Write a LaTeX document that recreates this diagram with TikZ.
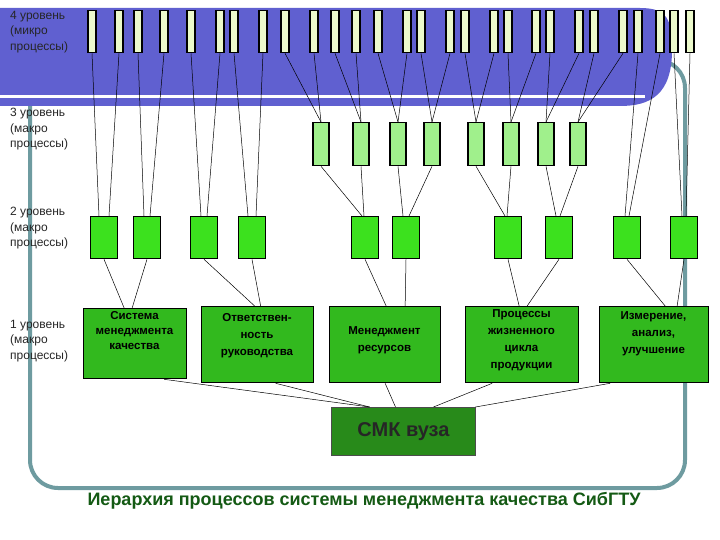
\documentclass[tikz,border=0pt]{standalone}
\usepackage{fontspec}
\setmainfont{Liberation Sans}
\begin{document}
\begin{tikzpicture}[x=1pt,y=-1pt,
  lvl/.style={anchor=north west,align=left,font=\fontsize{12}{15.5}\selectfont,text=black!85,inner sep=0pt},
  mic/.style={draw=black,line width=1.3pt,fill={rgb,255:red,236;green,250;blue,204},minimum width=8pt,minimum height=42pt,inner sep=0pt,anchor=north},
  mac3/.style={draw=black,line width=1.3pt,fill={rgb,255:red,160;green,240;blue,140},minimum width=16pt,minimum height=43pt,inner sep=0pt,anchor=north},
  mac2/.style={draw=black,line width=1.3pt,fill={rgb,255:red,60;green,225;blue,30},minimum width=27pt,minimum height=42pt,inner sep=0pt,anchor=north},
  mac1/.style={draw=black,line width=1.3pt,fill={rgb,255:red,50;green,185;blue,30},inner sep=0pt,anchor=north west},
  btxt/.style={font=\fontsize{11.5}{17}\selectfont\bfseries,align=center,anchor=north,inner sep=0pt},
  ln/.style={draw=black,line width=0.5pt}]
\useasboundingbox (0,0) rectangle (720,540);
\fill[white] (0,0) rectangle (720,540);
% frame
\draw[line width=4pt,color={rgb,255:red,110;green,155;blue,160},rounded corners=28pt] (30,60) rectangle (685,488);
% blue band
\fill[color={rgb,255:red,96;green,96;blue,208}] (0,8) -- (640,8) .. controls (668,8) and (672,20) .. (672,50) .. controls (672,95) and (650,106) .. (620,106) -- (0,106) -- cycle;
\fill[white] (0,95.5) rectangle (645,98.5);
% labels
\node[lvl] (l4) at (10,11) {4 уровень\\(микро\\процессы)};
\node[lvl] (l3) at (10,108) {3 уровень\\(макро\\процессы)};
\node[lvl] (l2) at (10,207) {2 уровень\\(макро\\процессы)};
\node[lvl] (l1) at (10,320) {1 уровень\\(макро\\процессы)};
% level 4
\foreach \x [count=\i] in {92,119,138,164,191,220,234,263,285,314,335,356,378,407,421,450,465,494,508,536,550,579,594,623,638,660,674,690}
  \node[mic] (a\i) at (\x,10) {};
% level 3
\foreach \x [count=\i] in {321,361,398,432,476,511,546,578}
  \node[mac3] (b\i) at (\x,122) {};
% level 2
\foreach \x [count=\i] in {104,147,204,252,365,406,508,559,627,684}
  \node[mac2] (c\i) at (\x,216) {};
% level 1
\node[mac1,minimum width=103pt,minimum height=70pt] (d1) at (83,308) {};
\node[btxt,font=\fontsize{11.5}{15}\selectfont\bfseries] (t1) at (134.5,311) {Система\\менеджмента\\качества};
\node[mac1,minimum width=112pt,minimum height=76pt] (d2) at (201,306) {};
\node[btxt] (t2) at (257,313) {Ответствен-\\ность\\руководства};
\node[mac1,minimum width=111pt,minimum height=76pt] (d3) at (329,306) {};
\node[btxt] (t3) at (384.5,326) {Менеджмент\\ресурсов};
\node[mac1,minimum width=113pt,minimum height=76pt] (d4) at (465,306) {};
\node[btxt] (t4) at (521.5,309) {Процессы\\жизненного\\цикла\\продукции};
\node[mac1,minimum width=109pt,minimum height=76pt] (d5) at (599,306) {};
\node[btxt] (t5) at (653.5,311) {Измерение,\\анализ,\\улучшение};
% SMK
\node[draw=black!70,line width=1pt,fill={rgb,255:red,40;green,138;blue,26},minimum width=144pt,minimum height=48pt,anchor=north west,font=\fontsize{20}{22}\selectfont\bfseries,text=black!85] (smk) at (331,407) {СМК вуза};
% title
\node[font=\fontsize{18}{20}\selectfont\bfseries,text={rgb,255:red,20;green,90;blue,20}] (title) at (364,501) {Иерархия процессов системы менеджмента качества СибГТУ};
% L4 -> L2
\foreach \u/\v/\s in {1/1/-5,2/1/5,3/2/-3,4/2/3,5/3/-3,6/3/3,7/4/-4,8/4/4,25/9/-2,26/9/2,27/10/-2,28/10/2}
  \draw[ln] (a\u.south) -- ([xshift=\s pt]c\v.north);
% L4 -> L3
\foreach \u/\v in {9/1,10/1,11/2,12/2,13/3,14/3,15/4,16/4,17/5,18/5,19/6,20/6,21/7,22/7,23/8,24/8}
  \draw[ln] (a\u.south) -- (b\v.north);
% L3 -> L2
\foreach \u/\v/\s in {1/5/-3,2/5/-1,3/6/-3,4/6/3,5/7/-3,6/7/-1,7/8/-3,8/8/1}
  \draw[ln] (b\u.south) -- ([xshift=\s pt]c\v.north);
% L2 -> L1
\foreach \u/\v/\s in {1/1/-11,2/1/-3,3/2/-3,4/2/3,5/3/1,6/3/20,7/4/-3,8/4/5,9/5/11,10/5/23}
  \draw[ln] (c\u.south) -- ([xshift=\s pt]d\v.north);
% L1 -> SMK
\draw[ln] ([xshift=29pt]d1.south) -- ([xshift=-34pt]smk.north);
\draw[ln] ([xshift=18pt]d2.south) -- ([xshift=-34pt]smk.north);
\draw[ln] (d3.south) -- ([xshift=-8pt]smk.north);
\draw[ln] ([xshift=-30pt]d4.south) -- ([xshift=30pt]smk.north);
\draw[ln] ([xshift=-44pt]d5.south) -- ([xshift=72pt]smk.north);
\end{tikzpicture}
\end{document}
